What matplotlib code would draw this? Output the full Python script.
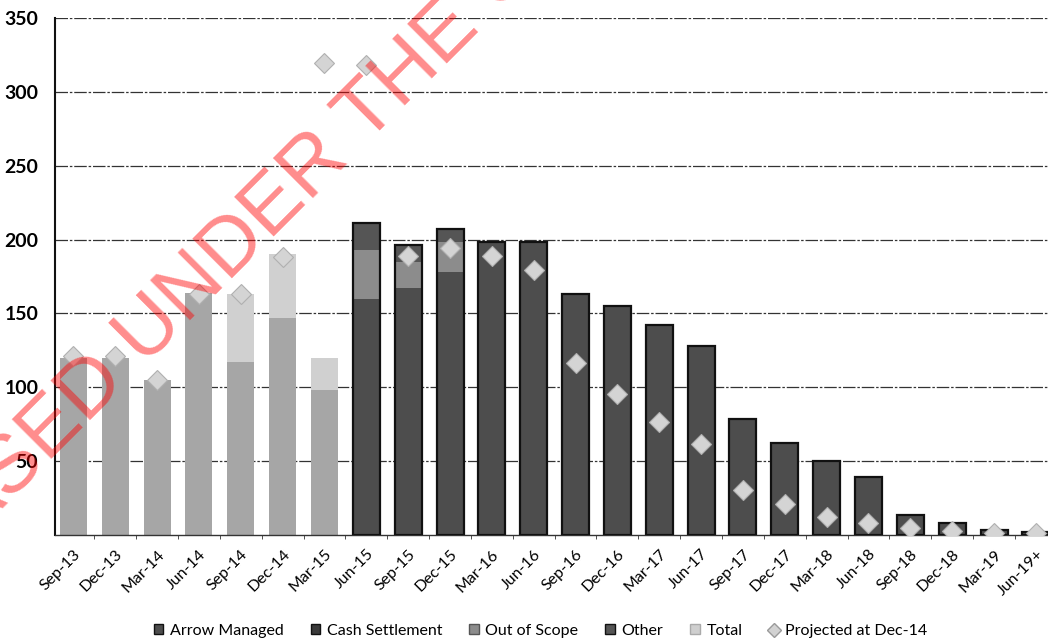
import matplotlib
matplotlib.use('Agg')
import matplotlib.pyplot as plt
import numpy as np
from matplotlib.patches import Patch
from matplotlib.lines import Line2D

plt.rcParams['font.family'] = ['Lato', 'DejaVu Sans']

quarters = ['Sep-13', 'Dec-13', 'Mar-14', 'Jun-14', 'Sep-14', 'Dec-14', 'Mar-15',
            'Jun-15', 'Sep-15', 'Dec-15', 'Mar-16', 'Jun-16', 'Sep-16', 'Dec-16',
            'Mar-17', 'Jun-17', 'Sep-17', 'Dec-17', 'Mar-18', 'Jun-18', 'Sep-18',
            'Dec-18', 'Mar-19', 'Jun-19+']

# history (Sep-13 .. Mar-15)
total = [120, 120, 105, 164, 163, 190, 120] + [0] * 17
total_lower = [120, 120, 105, 164, 117, 147, 98] + [0] * 17

# forecast (Jun-15 onwards)
arrow_managed = [0] * 7 + [160, 167, 178, 198, 198, 163, 155, 142, 128, 78, 62, 50, 39, 13, 8, 3, 2]
cash_settlement = [0] * 24
out_of_scope = [0] * 7 + [33, 18, 20] + [0] * 14
other = [0] * 7 + [18, 11, 9] + [0] * 14

projected = [121, 121, 105, 163, 163, 188, 320, 318, 188.5, 194, 189, 179.5, 116.5, 95,
             76.5, 61.7, 30.5, 21, 12, 8, 4.5, 2.3, 0.7, 0.7]

x = np.arange(len(quarters))
w = 0.645

fig = plt.figure(figsize=(10.48, 6.39), dpi=100)
ax = fig.add_axes([55/1048, 104.5/639, 993/1048, 516.2/639])

# history bars
ax.bar(x, total, w, color='#d0d0d0', zorder=2)
ax.bar(x, total_lower, w, color='#a6a6a6', zorder=2)

# forecast stacked bars
am = np.array(arrow_managed, dtype=float)
cs = np.array(cash_settlement, dtype=float)
oos = np.array(out_of_scope, dtype=float)
oth = np.array(other, dtype=float)
fc = x >= 7
ax.bar(x[fc], am[fc], w, color='#4d4d4d', linewidth=0, zorder=2)
ax.bar(x[fc], cs[fc], w, bottom=am[fc], color='#3a3a3a', linewidth=0, zorder=2)
ax.bar(x[fc], oos[fc], w, bottom=(am + cs)[fc], color='#8c8c8c', linewidth=0, zorder=2)
ax.bar(x[fc], oth[fc], w, bottom=(am + cs + oos)[fc], color='#555555', linewidth=0, zorder=2)
# outline of the full forecast bar
tot_fc = (am + cs + oos + oth)[fc]
ax.bar(x[fc], tot_fc, w, fill=False, edgecolor='#111111', linewidth=1.6, zorder=3)

ax.plot(x, projected, linestyle='none', marker='D', markersize=10,
        markerfacecolor='#d4d4d4', markeredgecolor='#b0b0b0', markeredgewidth=0.8, zorder=4)

ax.set_xlim(-0.44, 23.29)
ax.set_ylim(0, 350)
ax.set_yticks([50, 100, 150, 200, 250, 300, 350])
ax.yaxis.grid(True, color='#333333', linewidth=0.9, linestyle=(0, (10, 1.5, 2, 1.5)), zorder=1)
ax.set_axisbelow(True)
ax.tick_params(axis='y', length=0, pad=12, labelsize=14)
for lab in ax.get_yticklabels():
    lab.set_fontweight('bold')

ax.set_xticks(x)
ax.set_xticklabels(quarters, rotation=45, ha='right', va='top', rotation_mode='anchor', fontsize=11.5)
ax.tick_params(axis='x', length=0, pad=9)
ax.set_xticks(x[:-1] + 0.5, minor=True)
ax.tick_params(axis='x', which='minor', length=3, color='#333333')

for s in ['top', 'right']:
    ax.spines[s].set_visible(False)
ax.spines['left'].set_linewidth(1.5)
ax.spines['left'].set_color('#111111')
ax.spines['bottom'].set_linewidth(1.0)
ax.spines['bottom'].set_color('#333333')

handles = [Patch(facecolor='#4d4d4d', edgecolor='#111111', label='Arrow Managed'),
           Patch(facecolor='#3a3a3a', edgecolor='#111111', label='Cash Settlement'),
           Patch(facecolor='#8c8c8c', edgecolor='#555555', label='Out of Scope'),
           Patch(facecolor='#555555', edgecolor='#111111', label='Other'),
           Patch(facecolor='#cfcfcf', edgecolor='#aaaaaa', label='Total'),
           Line2D([], [], linestyle='none', marker='D', markersize=7, markerfacecolor='#d2d2d2',
                  markeredgecolor='#9a9a9a', label='Projected at Dec-14')]
fig.legend(handles=handles, loc='lower center', bbox_to_anchor=(0.516, -0.021), ncol=6,
           frameon=False, fontsize=11.5, handlelength=0.6, handleheight=0.6,
           handletextpad=0.4, columnspacing=1.7)

# watermark
fig.text(0.184, 0.55, 'RELEASED UNDER THE OIA', rotation=45, ha='center', va='center',
         fontsize=59, color='red', alpha=0.45, family='Liberation Sans', zorder=10)

fig.savefig('out.png', dpi=100)
